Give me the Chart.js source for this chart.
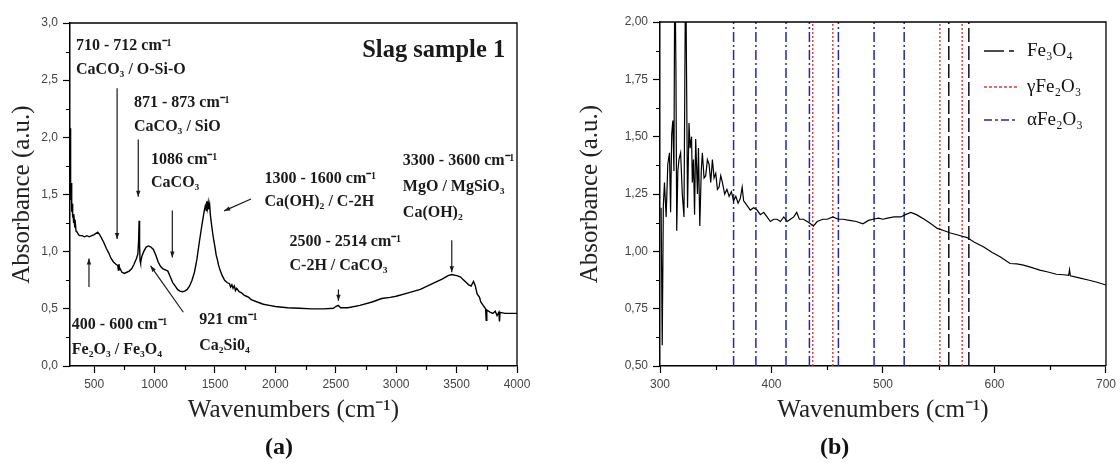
<!DOCTYPE html>
<html><head><meta charset="utf-8">
<script src="https://cdn.jsdelivr.net/npm/chart.js@4/dist/chart.umd.min.js"></script>
<style>
html,body{margin:0;padding:0;background:#fff;}
#wrap{position:relative;width:1120px;height:463px;overflow:hidden;background:#fff;}
.box{position:absolute;top:0;width:560px;height:463px;}
.lab{position:absolute;top:433px;font:bold 24px "Liberation Serif",serif;color:#111;}
</style></head><body>
<div id="wrap">
<div class="box" style="left:0"><canvas id="c1" width="560" height="463"></canvas></div>
<div class="box" style="left:560px"><canvas id="c2" width="560" height="463"></canvas></div>
<div class="lab" style="left:265px">(a)</div>
<div class="lab" style="left:820px">(b)</div>
</div>
<script>
// ---------- Panel (a): FTIR spectrum of slag sample 1 ----------
const aWave = [300,302,305,308,311,314,318,322,326,330,335,340,345,350,360,370,380,400,420,440,460,480,500,515,530,545,560,580,600,620,640,660,680,695,700,705,710,730,750,770,790,810,830,850,862,868,872,876,880,884,895,910,930,950,970,990,1010,1030,1050,1070,1090,1110,1130,1150,1170,1190,1210,1230,1250,1270,1290,1310,1330,1350,1370,1390,1410,1420,1428,1432,1438,1444,1450,1456,1462,1470,1480,1490,1500,1510,1520,1530,1545,1560,1580,1600,1620,1630,1640,1650,1660,1670,1680,1700,1720,1740,1760,1780,1800,1850,1900,1950,2000,2100,2200,2300,2400,2480,2500,2520,2540,2600,2700,2800,2880,2950,3000,3100,3200,3300,3380,3430,3460,3500,3530,3560,3580,3600,3620,3640,3655,3670,3690,3700,3720,3740,3745,3750,3780,3800,3820,3835,3850,3855,3860,3900,3950,4000];
const aAbs  = [2.08,1.55,1.85,1.45,1.60,1.35,1.42,1.30,1.33,1.25,1.28,1.21,1.24,1.18,1.17,1.15,1.14,1.14,1.13,1.14,1.13,1.14,1.15,1.16,1.17,1.15,1.12,1.08,1.03,0.99,0.94,0.91,0.89,0.88,0.84,0.89,0.86,0.82,0.81,0.82,0.83,0.85,0.89,0.94,0.98,1.10,1.27,1.05,0.92,0.90,0.96,1.00,1.04,1.05,1.04,1.02,0.97,0.91,0.87,0.85,0.84,0.83,0.78,0.73,0.70,0.67,0.655,0.65,0.655,0.67,0.70,0.75,0.82,0.93,1.08,1.22,1.35,1.40,1.36,1.44,1.38,1.43,1.37,1.41,1.32,1.25,1.17,1.10,1.04,0.97,0.93,0.88,0.83,0.79,0.75,0.73,0.72,0.69,0.71,0.68,0.70,0.66,0.68,0.65,0.64,0.62,0.61,0.60,0.58,0.56,0.54,0.53,0.52,0.51,0.505,0.50,0.50,0.505,0.52,0.53,0.51,0.51,0.53,0.56,0.59,0.60,0.61,0.64,0.67,0.72,0.76,0.79,0.80,0.79,0.78,0.75,0.73,0.71,0.70,0.74,0.70,0.63,0.60,0.56,0.53,0.50,0.40,0.49,0.47,0.46,0.48,0.44,0.47,0.39,0.47,0.46,0.46,0.46];
const aXTicks = [500,1000,1500,2000,2500,3000,3500,4000];
const aXTickLabels = ['500','1000','1500','2000','2500','3000','3500','4000'];
const aXMinor = [750,1250,1750,2250,2750,3250,3750];
const aYTicks = [0,0.5,1,1.5,2,2.5,3];
const aYTickLabels = ['0,0','0,5','1,0','1,5','2,0','2,5','3,0'];
const aYMinor = [0.25,0.75,1.25,1.75,2.25,2.75];
// annotation labels: [text, wavenumber, absorbance]
const aNotes = [
  ['710 - 712 cm\u207B\u00B9', 350, 2.80],
  ['CaCO\u2083 / O-Si-O', 350, 2.59],
  ['871 - 873 cm\u207B\u00B9', 830, 2.30],
  ['CaCO\u2083 / SiO', 830, 2.09],
  ['1086 cm\u207B\u00B9', 971, 1.80],
  ['CaCO\u2083', 971, 1.60],
  ['1300 - 1600 cm\u207B\u00B9', 1910, 1.64],
  ['Ca(OH)\u2082 / C-2H', 1910, 1.44],
  ['3300 - 3600 cm\u207B\u00B9', 3055, 1.79],
  ['MgO / MgSiO\u2083', 3055, 1.57],
  ['Ca(OH)\u2082', 3055, 1.34],
  ['2500 - 2514 cm\u207B\u00B9', 2117, 1.09],
  ['C-2H / CaCO\u2083', 2117, 0.88],
  ['400 - 600 cm\u207B\u00B9', 315, 0.36],
  ['Fe\u2082O\u2083 / Fe\u2083O\u2084', 315, 0.14],
  ['921 cm\u207B\u00B9', 1370, 0.40],
  ['Ca\u2082Si0\u2084', 1370, 0.18]
];
const aTitle = ['Slag sample 1', 3902, 2.76];
// arrows: [fromWave, fromAbs, toWave, toAbs]
const aArrows = [
  [690, 2.43, 690, 1.11],
  [865, 1.98, 865, 1.48],
  [1147, 1.36, 1147, 0.95],
  [1798, 1.46, 1576, 1.357],
  [3460, 1.10, 3460, 0.82],
  [2522, 0.67, 2522, 0.57],
  [457, 0.69, 457, 0.94],
  [1238, 0.47, 967, 0.876]
];

// ---------- Panel (b): zoom 300-700 cm-1 with reference bands ----------
const bWave = [301,302,303,304,305.5,307,308.5,309.5,310.5,311.5,312.5,313.3,314.3,315,316,317,318.5,320,321.5,323,324.7,326,327,328.3,329,330,331,332,333.6,334.5,335.7,337,338,339.5,341,342.5,344,345.5,347,348.5,350,351.5,353,354.5,356,358,360,362,364,366,368,370,372,373.7,375,378,381,384,387,390,393,396,399,402,405,408,411,414,417,420,422.6,425,428.6,432,435,437.5,441,446,450,455,460,464,470,476,482,487,491,496,500,504,510,516,520,525,530,537,543,548.7,555,560.5,568,575.4,582,590,598,605,614,620,626,633,640.6,648,655.5,662,666.5,667.3,668,675,685,692,700];
const bAbs  = [1.19,0.59,1.20,1.30,1.15,1.38,1.43,1.17,1.51,1.57,1.35,2.30,1.79,1.09,1.35,1.40,1.43,1.25,1.15,2.30,1.19,1.56,1.45,1.50,1.30,1.40,1.16,1.49,1.25,1.45,1.11,1.35,1.43,1.32,1.33,1.40,1.38,1.30,1.40,1.32,1.34,1.27,1.28,1.33,1.30,1.25,1.27,1.24,1.26,1.22,1.24,1.21,1.23,1.28,1.22,1.20,1.18,1.19,1.18,1.16,1.17,1.15,1.13,1.14,1.14,1.13,1.15,1.13,1.14,1.15,1.17,1.14,1.14,1.13,1.12,1.11,1.13,1.14,1.14,1.15,1.14,1.14,1.135,1.13,1.12,1.135,1.14,1.145,1.14,1.145,1.15,1.15,1.16,1.17,1.16,1.14,1.12,1.10,1.09,1.08,1.07,1.06,1.04,1.02,0.995,0.976,0.947,0.945,0.94,0.93,0.918,0.91,0.90,0.898,0.895,0.92,0.893,0.885,0.874,0.865,0.853];
const fe3o4Bands  = [559, 577];
const gammaBands  = [437, 455, 551, 571];
const alphaBands  = [366, 386, 413, 434, 460, 492, 519];
const bXTicks = [300,400,500,600,700];
const bXTickLabels = ['300','400','500','600','700'];
const bXMinor = [350,450,550,650];
const bYTicks = [0.5,0.75,1,1.25,1.5,1.75,2];
const bYTickLabels = ['0,50','0,75','1,00','1,25','1,50','1,75','2,00'];
const bYMinor = [0.625,0.875,1.125,1.375,1.625,1.875];
const legendItems = [
  {text:'Fe\u2083O\u2084', color:'#111', dash:[20,5,5,5]},
  {text:'\u03B3Fe\u2082O\u2083', color:'#d23c3c', dash:[3,2]},
  {text:'\u03B1Fe\u2082O\u2083', color:'#2a2a96', dash:[8,3,3,3]}
];

// ---------- helpers ----------
const tickFont = {family:'"Liberation Sans", Arial, sans-serif', size:12};
const titleFont = {family:'"Liberation Serif", serif', size:25};
function xy(w,a){ return w.map((v,i)=>({x:v,y:a[i]})); }

function framePlugin(minX, minY){
  return {
    id:'frame',
    afterDraw(chart){
      const {ctx, chartArea:a, scales:{x,y}} = chart;
      ctx.save();
      ctx.strokeStyle = '#000';
      ctx.lineWidth = 1.3;
      ctx.beginPath();
      ctx.moveTo(a.left, a.top); ctx.lineTo(a.right, a.top); ctx.lineTo(a.right, a.bottom);
      ctx.stroke();
      ctx.lineWidth = 1.2;
      ctx.beginPath();
      minX.forEach(v=>{const p = Math.round(x.getPixelForValue(v))+0.5; ctx.moveTo(p, a.bottom); ctx.lineTo(p, a.bottom+4);});
      minY.forEach(v=>{const p = Math.round(y.getPixelForValue(v))+0.5; ctx.moveTo(a.left, p); ctx.lineTo(a.left-4, p);});
      ctx.stroke();
      ctx.restore();
    }
  };
}

function drawArrow(ctx, x1, y1, x2, y2){
  ctx.beginPath(); ctx.moveTo(x1,y1); ctx.lineTo(x2,y2); ctx.stroke();
  const ang = Math.atan2(y2-y1, x2-x1), L = 6, W = 2.2;
  ctx.beginPath();
  ctx.moveTo(x2, y2);
  ctx.lineTo(x2 - L*Math.cos(ang) + W*Math.sin(ang), y2 - L*Math.sin(ang) - W*Math.cos(ang));
  ctx.lineTo(x2 - L*Math.cos(ang) - W*Math.sin(ang), y2 - L*Math.sin(ang) + W*Math.cos(ang));
  ctx.closePath(); ctx.fill();
}

const annotPlugin = {
  id:'annot',
  afterDatasetsDraw(chart){
    const {ctx, scales:{x,y}} = chart;
    ctx.save();
    ctx.fillStyle = '#1a1a1a';
    ctx.strokeStyle = '#1a1a1a';
    ctx.lineWidth = 1.2;
    ctx.textBaseline = 'middle';
    ctx.textAlign = 'left';
    ctx.font = 'bold 16px "Liberation Serif", serif';
    aNotes.forEach(([t,w,v])=>ctx.fillText(t, x.getPixelForValue(w), y.getPixelForValue(v)));
    aArrows.forEach(([w1,v1,w2,v2])=>drawArrow(ctx, x.getPixelForValue(w1), y.getPixelForValue(v1), x.getPixelForValue(w2), y.getPixelForValue(v2)));
    ctx.font = 'bold 24.5px "Liberation Serif", serif';
    ctx.textAlign = 'right';
    ctx.fillText(aTitle[0], x.getPixelForValue(aTitle[1]), y.getPixelForValue(aTitle[2]));
    ctx.restore();
  }
};

const legendPlugin = {
  id:'customLegend',
  afterDraw(chart){
    const {ctx, chartArea:a} = chart;
    const x0 = a.right - 122, rows = [a.top + 29, a.top + 65, a.top + 98];
    ctx.save();
    legendItems.forEach((it,i)=>{
      ctx.strokeStyle = it.color; ctx.lineWidth = 1.5; ctx.setLineDash(it.dash);
      ctx.beginPath(); ctx.moveTo(x0, rows[i]); ctx.lineTo(x0+34, rows[i]); ctx.stroke();
      ctx.setLineDash([]);
      ctx.fillStyle = '#111';
      ctx.font = '19px "Liberation Serif", serif';
      ctx.textBaseline = 'middle';
      ctx.fillText(it.text, x0+43, rows[i]);
    });
    ctx.restore();
  }
};

function scalesFor(xMin, xMax, xT, xL, yMin, yMax, yT, yL, yWidth, yTitlePad){
  return {
    x:{
      type:'linear', min:xMin, max:xMax,
      afterBuildTicks:s=>{ s.ticks = xT.map(v=>({value:v})); },
      afterFit:s=>{ s.height = 97; },
      ticks:{callback:(v)=>xL[xT.indexOf(v)], color:'#444', font:tickFont, padding:4, maxRotation:0, autoSkip:false},
      grid:{drawOnChartArea:false, tickLength:7, tickColor:'#000', tickWidth:1.2},
      border:{color:'#000', width:1.5},
      title:{display:true, text:'Wavenumbers (cm\u207B\u00B9)', font:titleFont, color:'#222', padding:{top:0,bottom:38}}
    },
    y:{
      type:'linear', min:yMin, max:yMax,
      afterBuildTicks:s=>{ s.ticks = yT.map(v=>({value:v})); },
      afterFit:s=>{ s.width = yWidth; },
      ticks:{callback:(v)=>yL[yT.indexOf(v)], color:'#444', font:tickFont, padding:5},
      grid:{drawOnChartArea:false, tickLength:7, tickColor:'#000', tickWidth:1.2},
      border:{color:'#000', width:1.5},
      title:{display:true, text:'Absorbance (a.u.)', font:titleFont, color:'#222', padding:{top:yTitlePad,bottom:0}}
    }
  };
}

new Chart(document.getElementById('c1'), {
  type:'line',
  data:{datasets:[{data:xy(aWave,aAbs), borderColor:'#000', borderWidth:1.4, pointRadius:0, tension:0, fill:false}]},
  options:{
    responsive:false, animation:false,
    layout:{padding:{top:23, right:43, left:0, bottom:0}},
    plugins:{legend:{display:false}, tooltip:{enabled:false}},
    scales:scalesFor(300,4000,aXTicks,aXTickLabels,0,3,aYTicks,aYTickLabels,70,7)
  },
  plugins:[framePlugin(aXMinor,aYMinor), annotPlugin]
});

const bandSets = [];
fe3o4Bands.forEach(v=>bandSets.push({data:[{x:v,y:0.5},{x:v,y:2}], borderColor:legendItems[0].color, borderDash:[14,4], borderWidth:1.5, pointRadius:0}));
gammaBands.forEach(v=>bandSets.push({data:[{x:v,y:0.5},{x:v,y:2}], borderColor:legendItems[1].color, borderDash:[2,2], borderWidth:1.4, pointRadius:0}));
alphaBands.forEach(v=>bandSets.push({data:[{x:v,y:0.5},{x:v,y:2}], borderColor:legendItems[2].color, borderDash:[10,3,2,3], borderWidth:1.5, pointRadius:0}));

new Chart(document.getElementById('c2'), {
  type:'line',
  data:{datasets:[{data:xy(bWave,bAbs), borderColor:'#000', borderWidth:1.2, pointRadius:0, tension:0, fill:false}].concat(bandSets)},
  options:{
    responsive:false, animation:false,
    layout:{padding:{top:22, right:10, left:0, bottom:0}},
    plugins:{legend:{display:false}, tooltip:{enabled:false}},
    scales:scalesFor(300,700,bXTicks,bXTickLabels,0.5,2,bYTicks,bYTickLabels,100,15)
  },
  plugins:[framePlugin(bXMinor,bYMinor), legendPlugin]
});
</script>
</body></html>
